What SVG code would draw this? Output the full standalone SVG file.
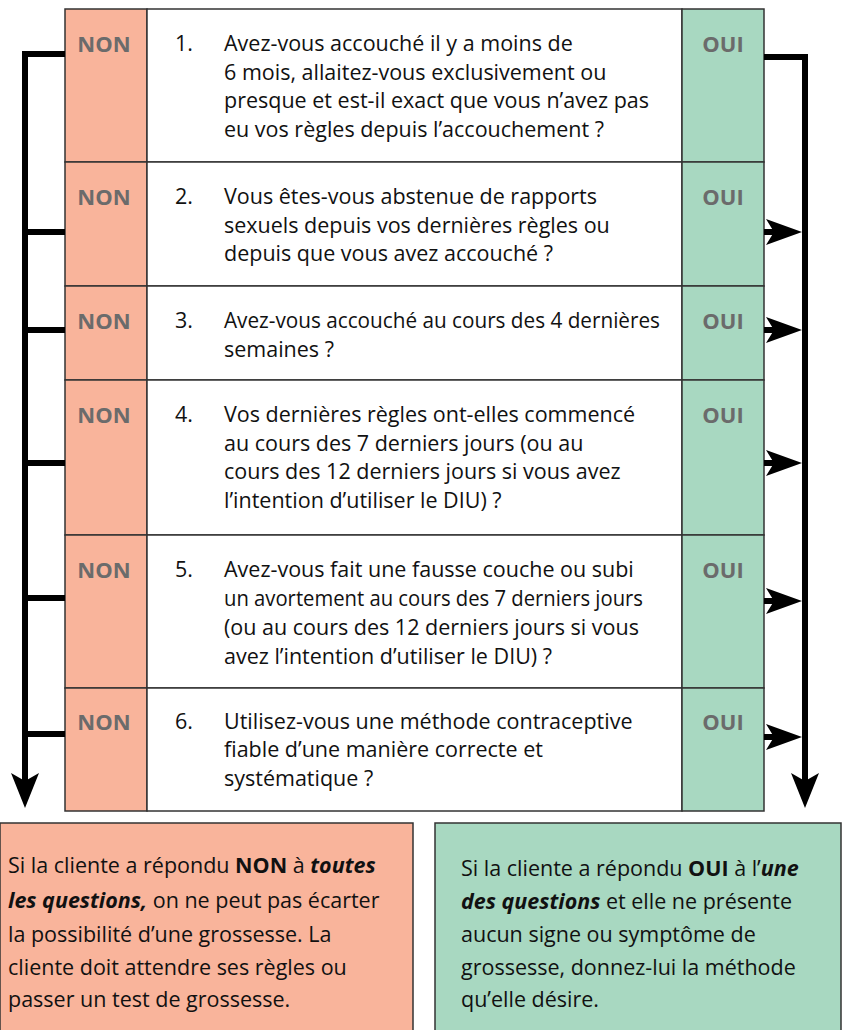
<svg xmlns="http://www.w3.org/2000/svg" xmlns:xlink="http://www.w3.org/1999/xlink" width="844" height="1030" viewBox="0 0 844 1030">
<style>
.non{fill:#f9b49b;stroke:#333;stroke-width:1.5}
.oui{fill:#a8d8c1;stroke:#333;stroke-width:1.5}
.q{fill:#fff;stroke:#333;stroke-width:1.5}
.lbl{font-family:"Open Sans","Liberation Sans",sans-serif;font-weight:bold;font-size:22px;fill:#6b6b6b;text-anchor:middle}
.t{font-family:"Open Sans","Liberation Sans",sans-serif;font-size:21.5px;fill:#111}
.b{font-family:"Open Sans","Liberation Sans",sans-serif;font-size:21.5px;fill:#111}
.ln{fill:none;stroke:#000;stroke-width:6}
</style>
<defs>
<path id="ar" d="M0,0 L-36,-13 L-28,0 L-36,13 Z" fill="#000"/>
<path id="ad" d="M0,0 L-14,-35 L0,-27 L14,-35 Z" fill="#000"/>
</defs>
<rect x="0" y="823" width="413" height="212" class="non"/>
<rect x="435" y="823" width="406" height="212" class="oui"/>
<g id="row1"><rect x="65" y="9" width="82" height="153" class="non"/><rect x="147" y="9" width="535" height="153" class="q"/><rect x="682" y="9" width="82" height="153" class="oui"/>
<text class="lbl" x="104" y="52">NON</text><text class="lbl" x="723" y="52">OUI</text>
<text class="t" x="175" y="51">1.</text>
<text class="t"><tspan x="224" y="51">Avez-vous accouché il y a moins de</tspan><tspan x="224" y="80">6 mois, allaitez-vous exclusivement ou</tspan><tspan x="224" y="108">presque et est-il exact que vous n’avez pas</tspan><tspan x="224" y="137">eu vos règles depuis l’accouchement ?</tspan></text></g>
<g id="row2"><rect x="65" y="162" width="82" height="124" class="non"/><rect x="147" y="162" width="535" height="124" class="q"/><rect x="682" y="162" width="82" height="124" class="oui"/>
<text class="lbl" x="104" y="205">NON</text><text class="lbl" x="723" y="205">OUI</text>
<text class="t" x="175" y="204">2.</text>
<text class="t"><tspan x="224" y="204">Vous êtes-vous abstenue de rapports</tspan><tspan x="224" y="233">sexuels depuis vos dernières règles ou</tspan><tspan x="224" y="261">depuis que vous avez accouché ?</tspan></text></g>
<g id="row3"><rect x="65" y="286" width="82" height="94" class="non"/><rect x="147" y="286" width="535" height="94" class="q"/><rect x="682" y="286" width="82" height="94" class="oui"/>
<text class="lbl" x="104" y="329">NON</text><text class="lbl" x="723" y="329">OUI</text>
<text class="t" x="175" y="328">3.</text>
<text class="t" x="224" y="328" textLength="436" lengthAdjust="spacingAndGlyphs">Avez-vous accouché au cours des 4 dernières</text>
<text class="t" x="224" y="357">semaines ?</text></g>
<g id="row4"><rect x="65" y="380" width="82" height="155" class="non"/><rect x="147" y="380" width="535" height="155" class="q"/><rect x="682" y="380" width="82" height="155" class="oui"/>
<text class="lbl" x="104" y="423">NON</text><text class="lbl" x="723" y="423">OUI</text>
<text class="t" x="175" y="422">4.</text>
<text class="t"><tspan x="224" y="422">Vos dernières règles ont-elles commencé</tspan><tspan x="224" y="451">au cours des 7 derniers jours (ou au</tspan><tspan x="224" y="479">cours des 12 derniers jours si vous avez</tspan><tspan x="224" y="508">l’intention d’utiliser le DIU) ?</tspan></text></g>
<g id="row5"><rect x="65" y="535" width="82" height="153" class="non"/><rect x="147" y="535" width="535" height="153" class="q"/><rect x="682" y="535" width="82" height="153" class="oui"/>
<text class="lbl" x="104" y="578">NON</text><text class="lbl" x="723" y="578">OUI</text>
<text class="t" x="175" y="577">5.</text>
<text class="t" x="224" y="577">Avez-vous fait une fausse couche ou subi</text>
<text class="t" x="224" y="606" textLength="419" lengthAdjust="spacingAndGlyphs">un avortement au cours des 7 derniers jours</text>
<text class="t"><tspan x="224" y="635">(ou au cours des 12 derniers jours si vous</tspan><tspan x="224" y="664">avez l’intention d’utiliser le DIU) ?</tspan></text></g>
<g id="row6"><rect x="65" y="688" width="82" height="123" class="non"/><rect x="147" y="688" width="535" height="123" class="q"/><rect x="682" y="688" width="82" height="123" class="oui"/>
<text class="lbl" x="104" y="730">NON</text><text class="lbl" x="723" y="730">OUI</text>
<text class="t" x="175" y="729">6.</text>
<text class="t"><tspan x="224" y="729">Utilisez-vous une méthode contraceptive</tspan><tspan x="224" y="757">fiable d’une manière correcte et</tspan><tspan x="224" y="786">systématique ?</tspan></text></g>
<g id="connectors">
<path class="ln" d="M65,54 H25 V785"/>
<path class="ln" d="M25,232 H65 M25,330 H65 M25,463 H65 M25,598 H65 M25,734 H65"/>
<use xlink:href="#ad" x="25" y="808"/>
<path class="ln" d="M764,57 H805 V785"/>
<path class="ln" d="M764,232 H785 M764,330 H785 M764,463 H785 M764,601 H785 M764,737 H785"/>
<use xlink:href="#ar" x="802" y="232"/><use xlink:href="#ar" x="802" y="330"/><use xlink:href="#ar" x="802" y="463"/><use xlink:href="#ar" x="802" y="601"/><use xlink:href="#ar" x="802" y="737"/>
<use xlink:href="#ad" x="805" y="808"/>
</g>
<g id="box-non">
<text class="b"><tspan x="8" y="873">Si la cliente a répondu <tspan font-weight="bold">NON</tspan> à <tspan font-weight="bold" font-style="italic">toutes</tspan></tspan><tspan x="8" y="908"><tspan font-weight="bold" font-style="italic">les questions,</tspan> on ne peut pas écarter</tspan><tspan x="8" y="942">la possibilité d’une grossesse. La</tspan><tspan x="8" y="975">cliente doit attendre ses règles ou</tspan><tspan x="8" y="1007">passer un test de grossesse.</tspan></text>
</g>
<g id="box-oui">
<text class="b"><tspan x="461" y="876">Si la cliente a répondu <tspan font-weight="bold">OUI</tspan> à l’<tspan font-weight="bold" font-style="italic">une</tspan></tspan><tspan x="461" y="909"><tspan font-weight="bold" font-style="italic">des questions</tspan> et elle ne présente</tspan><tspan x="461" y="942">aucun signe ou symptôme de</tspan><tspan x="461" y="975">grossesse, donnez-lui la méthode</tspan><tspan x="461" y="1007">qu’elle désire.</tspan></text>
</g>
</svg>
